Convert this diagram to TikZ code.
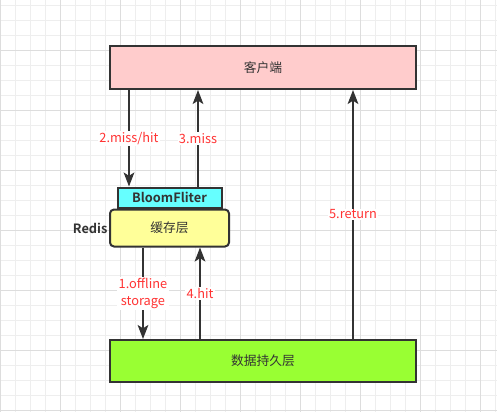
\documentclass[tikz,border=0pt]{standalone}
\usepackage{fontspec}
\setmainfont{Noto Sans CJK SC}[BoldFont=* Bold]
\usetikzlibrary{positioning,arrows.meta}

\definecolor{gridminor}{HTML}{EEEEEE}
\definecolor{gridmajor}{HTML}{DDDDDD}
\definecolor{linegray}{HTML}{333333}
\definecolor{clientpink}{HTML}{FFCCCC}
\definecolor{bloomcyan}{HTML}{66FFFF}
\definecolor{cacheyellow}{HTML}{FFFF99}
\definecolor{storegreen}{HTML}{99FF33}
\definecolor{labelred}{HTML}{FF3333}

\begin{document}
\begin{tikzpicture}
            [
            x=0.75pt, y=-0.75pt,
            font=\fontsize{9.6pt}{12.8pt}\selectfont,
            layer/.style={rectangle, draw=linegray, line width=1.5pt,
                text=linegray, minimum width=229.5pt},
            flow/.style={draw=linegray, line width=1.5pt,
                -{Stealth[length=10.5pt, width=8pt, inset=2.5pt]}},
            stage label/.style={fill=white, text=labelred, inner sep=1pt,
                align=center}
            ]
            \useasboundingbox (0,0) rectangle (497,412);
            \fill[white] (0,0) rectangle (497,412);

            % background grid
            \foreach \gx in {0,...,33}
            \draw [gridminor, line width=0.75pt] (\gx*15+0.5,0) -- (\gx*15+0.5,412);
            \foreach \gy in {0,...,27}
            \draw [gridminor, line width=0.75pt] (0,\gy*15+5) -- (497,\gy*15+5);
            \foreach \gx in {0,...,8}
            \draw [gridmajor, line width=0.75pt] (\gx*60+0.5,0) -- (\gx*60+0.5,412);
            \foreach \gy in {0,...,6}
            \draw [gridmajor, line width=0.75pt] (0,\gy*60+50) -- (497,\gy*60+50);

            \node (client) [layer, fill=clientpink, minimum height=32.25pt]
                at (263,67.5) {客户端};
            \node (store) [layer, fill=storegreen, minimum height=31.5pt]
                at (263,361) {数据持久层};
            \node (cache) [rectangle, draw=linegray, line width=1.5pt,
                rounded corners=3pt, fill=cacheyellow, text=linegray,
                minimum width=89.25pt, minimum height=27.75pt]
                at (169.5,228) {缓存层};
            \node (bloom) [above=0pt of cache, rectangle, draw=linegray,
                line width=1.5pt, fill=bloomcyan, text=linegray,
                minimum width=78pt, minimum height=15pt, inner sep=0pt]
                {\textbf{BloomFliter}};
            \node (redis) [left=1pt of cache, inner sep=0pt, text=linegray]
                {\textbf{Redis}};

            % arrow columns
            \coordinate (col2) at (129,0);
            \coordinate (col3) at (198,0);
            \coordinate (col1) at (143,0);
            \coordinate (col4) at (200,0);
            \coordinate (col5) at (353,0);

            \draw [flow] (client.south -| col2) -- (bloom.north -| col2)
                node [stage label, midway] {2.miss/hit};
            \draw [flow] (bloom.north -| col3) -- (client.south -| col3)
                node [stage label, midway] {3.miss};
            \draw [flow] (cache.south -| col1) -- (store.north -| col1)
                node [stage label, midway] {1.offline\\storage};
            \draw [flow] (store.north -| col4) -- (cache.south -| col4)
                node [stage label, midway] {4.hit};
            \draw [flow] (store.north -| col5) -- (client.south -| col5)
                node [stage label, midway] {5.return};
        \end{tikzpicture}
\end{document}
